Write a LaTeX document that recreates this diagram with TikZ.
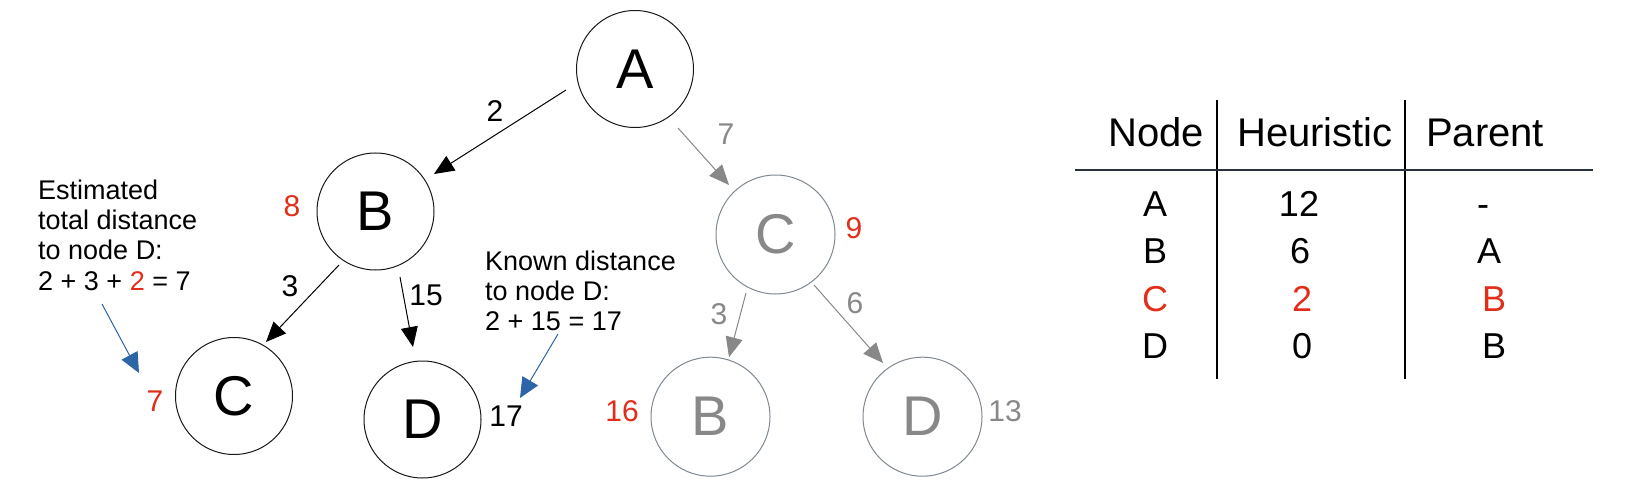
\documentclass[tikz,border=0pt]{standalone}
\usepackage{fontspec}
\setmainfont{Liberation Sans}
\usetikzlibrary{arrows.meta,calc}
\definecolor{myred}{RGB}{226,45,25}
\definecolor{myblue}{RGB}{46,101,168}
\definecolor{mygray}{RGB}{136,136,136}
\definecolor{mygrayline}{RGB}{128,136,146}
\definecolor{tabline}{RGB}{40,50,60}
\begin{document}
\begin{tikzpicture}[x=1pt,y=-1pt,
  blacknode/.style={circle,draw=black!90,line width=1pt,minimum size=117pt,inner sep=0pt,font=\fontsize{56}{60}\selectfont},
  graynode/.style={circle,draw=mygrayline,line width=1pt,minimum size=119pt,inner sep=0pt,text=mygray,font=\fontsize{56}{60}\selectfont},
  edgeblack/.style={draw=black,line width=1pt,-{Triangle[length=20pt,width=17pt]}},
  edgegray/.style={draw=mygray,line width=1pt,-{Triangle[length=20pt,width=17pt]}},
  notearrow/.style={draw=myblue,line width=1pt,-{Triangle[length=20pt,width=18pt]}},
  lbl/.style={inner sep=0pt,font=\fontsize{30}{32}\selectfont},
  note/.style={inner sep=0pt,align=left,anchor=north west,font=\fontsize{27}{30.3}\selectfont},
  th/.style={inner sep=0pt,anchor=base,font=\fontsize{40}{44}\selectfont},
  td/.style={inner sep=0pt,anchor=base,font=\fontsize{36}{40}\selectfont},
  tabrule/.style={line width=1.8pt,draw=black},
]
\fill[white] (0,0) rectangle (1630,484);
\useasboundingbox (0,0) rectangle (1630,484);

% tree nodes
\node[blacknode] (A) at (635,69) {A};
\node[blacknode] (B) at (375.5,211.5) {B};
\node[blacknode] (C) at (234,396) {C};
\node[blacknode] (D) at (422.5,419.5) {D};
\node[graynode] (Cg) at (775.5,234.5) {C};
\node[graynode] (Bg) at (710.5,416.7) {B};
\node[graynode] (Dg) at (922.5,416.7) {D};

% edges
\draw[edgeblack] ($(A)+(-69,21)$) -- ($(B)+(58.5,-37.5)$);
\draw[edgeblack] ($(B)+(-36.5,53.5)$) -- ($(C)+(32,-54)$);
\draw[edgeblack] ($(B)+(24.5,65.5)$) -- ($(D)+(-9.5,-72.5)$);
\draw[edgegray] ($(A)+(43,59)$) -- ($(Cg)+(-46.5,-49.5)$);
\draw[edgegray] ($(Cg)+(-29.5,58.5)$) -- ($(Bg)+(18.5,-59.5)$);
\draw[edgegray] ($(Cg)+(38.5,50.5)$) -- ($(Dg)+(-39.5,-53.7)$);

% labels
\node[lbl] (l2) at (495,111) {2};
\node[lbl,text=myred] (l8) at (292,206) {8};
\node[lbl] (l3) at (290,286) {3};
\node[lbl] (l15) at (426,295) {15};
\node[lbl,text=myred] (l7) at (155,401) {7};
\node[lbl] (l17) at (506,416) {17};
\node[lbl,text=mygray] (l7g) at (726,134) {7};
\node[lbl,text=myred] (l9) at (854,228) {9};
\node[lbl,text=mygray] (l3g) at (719,314) {3};
\node[lbl,text=mygray] (l6g) at (855,303) {6};
\node[lbl,text=myred] (l16) at (622,411) {16};
\node[lbl,text=mygray] (l13) at (1005,411) {13};

% notes
\node[note] (n1) at (38,179.5) {Estimated\\total distance\\to node D:\\2 + 3 + \textcolor{myred}{2} = 7};
\node[note] (n2) at (485,250.5) {Known distance\\to node D:\\2 + 15 = 17};
\coordinate (t1) at (102,304);
\coordinate (t2) at (558,334);
\draw[notearrow] (t1) -- ($(l7)+(-16,-28)$);
\draw[notearrow] (t2) -- ($(l17)+(14,-18)$);

% table
\coordinate (v1t) at (1217,100);
\coordinate (v1b) at (1217,379);
\coordinate (v2t) at (1405,100);
\coordinate (v2b) at (1405,379);
\coordinate (hl) at (1075,170);
\coordinate (hr) at (1593,170);
\draw[tabrule] (v1t) -- (v1b);
\draw[tabrule] (v2t) -- (v2b);
\draw[line width=1.4pt,draw=tabline] (hl) -- (hr);

\node[th] (hN) at (1156,146.7) {Node};
\node[th] (hH) at (1315,146.7) {Heuristic};
\node[th] (hP) at (1485,146.7) {Parent};

\node[td] (rA1) at (1155,216.7) {A};
\node[td] (rA2) at (1299,216.7) {12};
\node[td] (rA3) at (1483,216.7) {-};
\node[td] (rB1) at (1155,263) {B};
\node[td] (rB2) at (1300,263) {6};
\node[td] (rB3) at (1489,263) {A};
\node[td,text=myred] (rC1) at (1155,311.7) {C};
\node[td,text=myred] (rC2) at (1302,311.7) {2};
\node[td,text=myred] (rC3) at (1494,311.7) {B};
\node[td] (rD1) at (1155,358.3) {D};
\node[td] (rD2) at (1302,358.3) {0};
\node[td] (rD3) at (1494,358.3) {B};
\end{tikzpicture}
\end{document}
